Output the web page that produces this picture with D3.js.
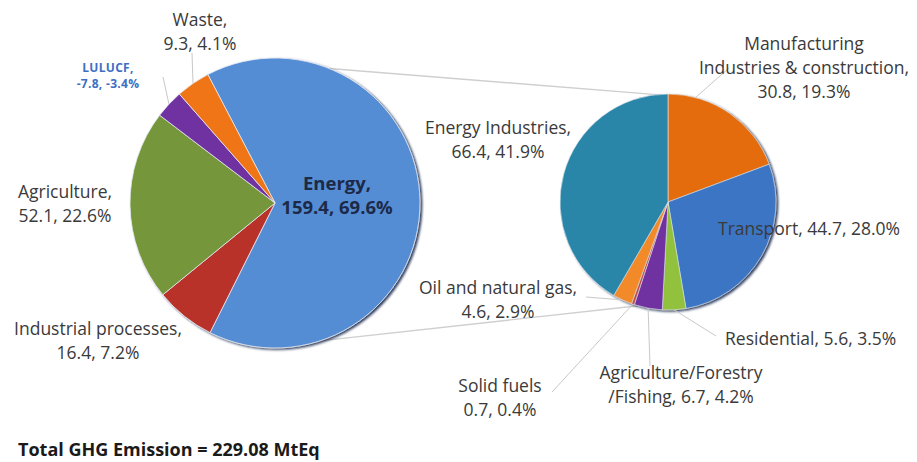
<!DOCTYPE html>
<html>
<head>
<meta charset="utf-8">
<script src="https://cdn.jsdelivr.net/npm/d3@7"></script>
<style>
  html, body { margin: 0; padding: 0; background: #fff; }
  svg { display: block; }
  text { font-family: "Open Sans", Lato, sans-serif; fill: #333; }
</style>
</head>
<body>
<svg id="chart" width="917" height="462"></svg>
<script>
// ---------- data ----------
const mainCategories = ["Energy", "Industrial processes", "Agriculture", "LULUCF", "Waste"];
const mainValues     = [159.4, 16.4, 52.1, -7.8, 9.3];
const mainPercents   = [69.6, 7.2, 22.6, -3.4, 4.1];

const subCategories = ["Manufacturing industries & construction", "Transport", "Residential",
                       "Agriculture/Forestry/Fishing", "Solid fuels", "Oil and natural gas", "Energy Industries"];
const subValues     = [30.8, 44.7, 5.6, 6.7, 0.7, 4.6, 66.4];
const subPercents   = [19.3, 28.0, 3.5, 4.2, 0.4, 2.9, 41.9];

const totalLabel = "Total GHG Emission = 229.08 MtEq";

// ---------- styles / layout ----------
const mainColors = ["#548dd4", "#b8322c", "#76963a", "#7030a0", "#ef7412"];
const subColors  = ["#e46c0a", "#3a74c4", "#92c23e", "#7030a0", "#c0504d", "#f28a2a", "#2b86a8"];

const svg = d3.select("#chart");
const defs = svg.append("defs");
const f = defs.append("filter").attr("id", "shadow").attr("x", "-10%").attr("y", "-10%").attr("width", "120%").attr("height", "120%");
f.append("feDropShadow").attr("dx", 2).attr("dy", 1.5).attr("stdDeviation", 1.2)
  .attr("flood-color", "#0d1f45").attr("flood-opacity", 0.85);

const deg = Math.PI / 180;

// main pie
const mainCx = 275, mainCy = 203, mainR = 145;
const mainPie = d3.pie().sort(null).value(d => Math.abs(d))
  .startAngle(-27.6 * deg).endAngle(332.4 * deg);
const mainArc = d3.arc().innerRadius(0).outerRadius(mainR);

// sub pie
const subCx = 668, subCy = 202, subR = 108;
const subPie = d3.pie().sort(null).value(d => d).startAngle(0).endAngle(2 * Math.PI);
const subArc = d3.arc().innerRadius(0).outerRadius(subR);

// connector lines (drawn first, behind pies)
const lineColor = "#cfcfcf";
const mainArcs = mainPie(mainValues);
function pt(cx, cy, r, a) { return [cx + r * Math.sin(a), cy - r * Math.cos(a)]; }
const conn = svg.append("g").attr("stroke", lineColor).attr("stroke-width", 1.4).attr("fill", "none");
function connect(a1, a2) {
  const p1 = pt(mainCx, mainCy, mainR, a1 * deg), p2 = pt(subCx, subCy, subR, a2 * deg);
  conn.append("line").attr("x1", p1[0]).attr("y1", p1[1]).attr("x2", p2[0]).attr("y2", p2[1]);
}
connect(22, -6);
connect(162, 196);

// draw main pie
const gMain = svg.append("g").attr("transform", `translate(${mainCx},${mainCy})`);
gMain.append("g").attr("filter", "url(#shadow)")
  .selectAll("path").data(mainArcs).join("path")
  .attr("d", mainArc).attr("fill", (d, i) => mainColors[i])
  .attr("stroke", "#e8eef8").attr("stroke-width", 0.8);

// draw sub pie
const subArcs = subPie(subValues);
const gSub = svg.append("g").attr("transform", `translate(${subCx},${subCy})`);
gSub.append("g").attr("filter", "url(#shadow)")
  .selectAll("path").data(subArcs).join("path")
  .attr("d", subArc).attr("fill", (d, i) => subColors[i])
  .attr("stroke", "#dfe8f0").attr("stroke-width", 0.6);

// leader lines (from arc edge to label)
const leaderG = svg.append("g").attr("stroke", "#c8c8c8").attr("stroke-width", 1).attr("fill", "none");
function leader(cx, cy, r, a, x2, y2) {
  const p = pt(cx, cy, r, a);
  leaderG.append("line").attr("x1", p[0]).attr("y1", p[1]).attr("x2", x2).attr("y2", y2);
}
const mid = d => (d.startAngle + d.endAngle) / 2;
leader(mainCx, mainCy, mainR, mid(mainArcs[4]), 192, 53);
leader(mainCx, mainCy, mainR, mid(mainArcs[3]), 163, 77);
leader(subCx, subCy, subR, mid(subArcs[0]) - 20 * deg, 729, 68);
leader(subCx, subCy, subR, mid(subArcs[2]), 716, 336);
leader(subCx, subCy, subR, mid(subArcs[3]), 650, 366);
leader(subCx, subCy, subR, mid(subArcs[4]), 552, 392);
leader(subCx, subCy, subR, mid(subArcs[5]), 586, 297);

// labels
const fmt = (v) => v.toFixed(1);
function label(lines, x, y, opts = {}) {
  const t = svg.append("text")
    .attr("x", x).attr("y", y)
    .attr("text-anchor", opts.anchor || "middle")
    .style("font-size", (opts.size || 17.5) + "px")
    .style("font-weight", opts.weight || "normal")
    .style("letter-spacing", (opts.ls != null ? opts.ls : 0) + "px")
    .style("fill", opts.color || "#3a3a3a");
  lines.forEach((l, i) => {
    t.append("tspan").attr("x", x).attr("dy", i === 0 ? 0 : (opts.lh || 24)).text(l);
  });
}
const mv = (i) => `${fmt(mainValues[i])}, ${fmt(mainPercents[i])}%`;
const sv = (i) => `${fmt(subValues[i])}, ${fmt(subPercents[i])}%`;

label([mainCategories[0] + ",", mv(0)], 337, 190, { weight: "bold", color: "#1c2a48", size: 18.5 });
label([mainCategories[1] + ",", mv(1)], 98, 335);
label([mainCategories[2] + ",", mv(2)], 65, 198, { lh: 24 });
label([mainCategories[3] + ",", mv(3)], 108, 72, { size: 12, weight: "bold", color: "#3d6fc4", lh: 16, ls: 0.3 });
label([mainCategories[4] + ",", mv(4)], 200, 26, { lh: 24 });

label(["Manufacturing", "Industries & construction,", sv(0)], 804, 50);
label([subCategories[6] + ",", sv(6)], 498, 134);
label([`${subCategories[1]}, ${sv(1)}`], 718, 235, { anchor: "start" });
label([`${subCategories[2]}, ${sv(2)}`], 725, 345, { anchor: "start" });
label(["Agriculture/Forestry", `/Fishing, ${sv(3)}`], 681, 379);
label([subCategories[4], sv(4)], 500, 392);
label([subCategories[5] + ",", sv(5)], 498, 294, { lh: 24 });

label([totalLabel], 18, 456, { anchor: "start", weight: "bold", size: 18, color: "#1a1a1a" });
</script>
</body>
</html>
